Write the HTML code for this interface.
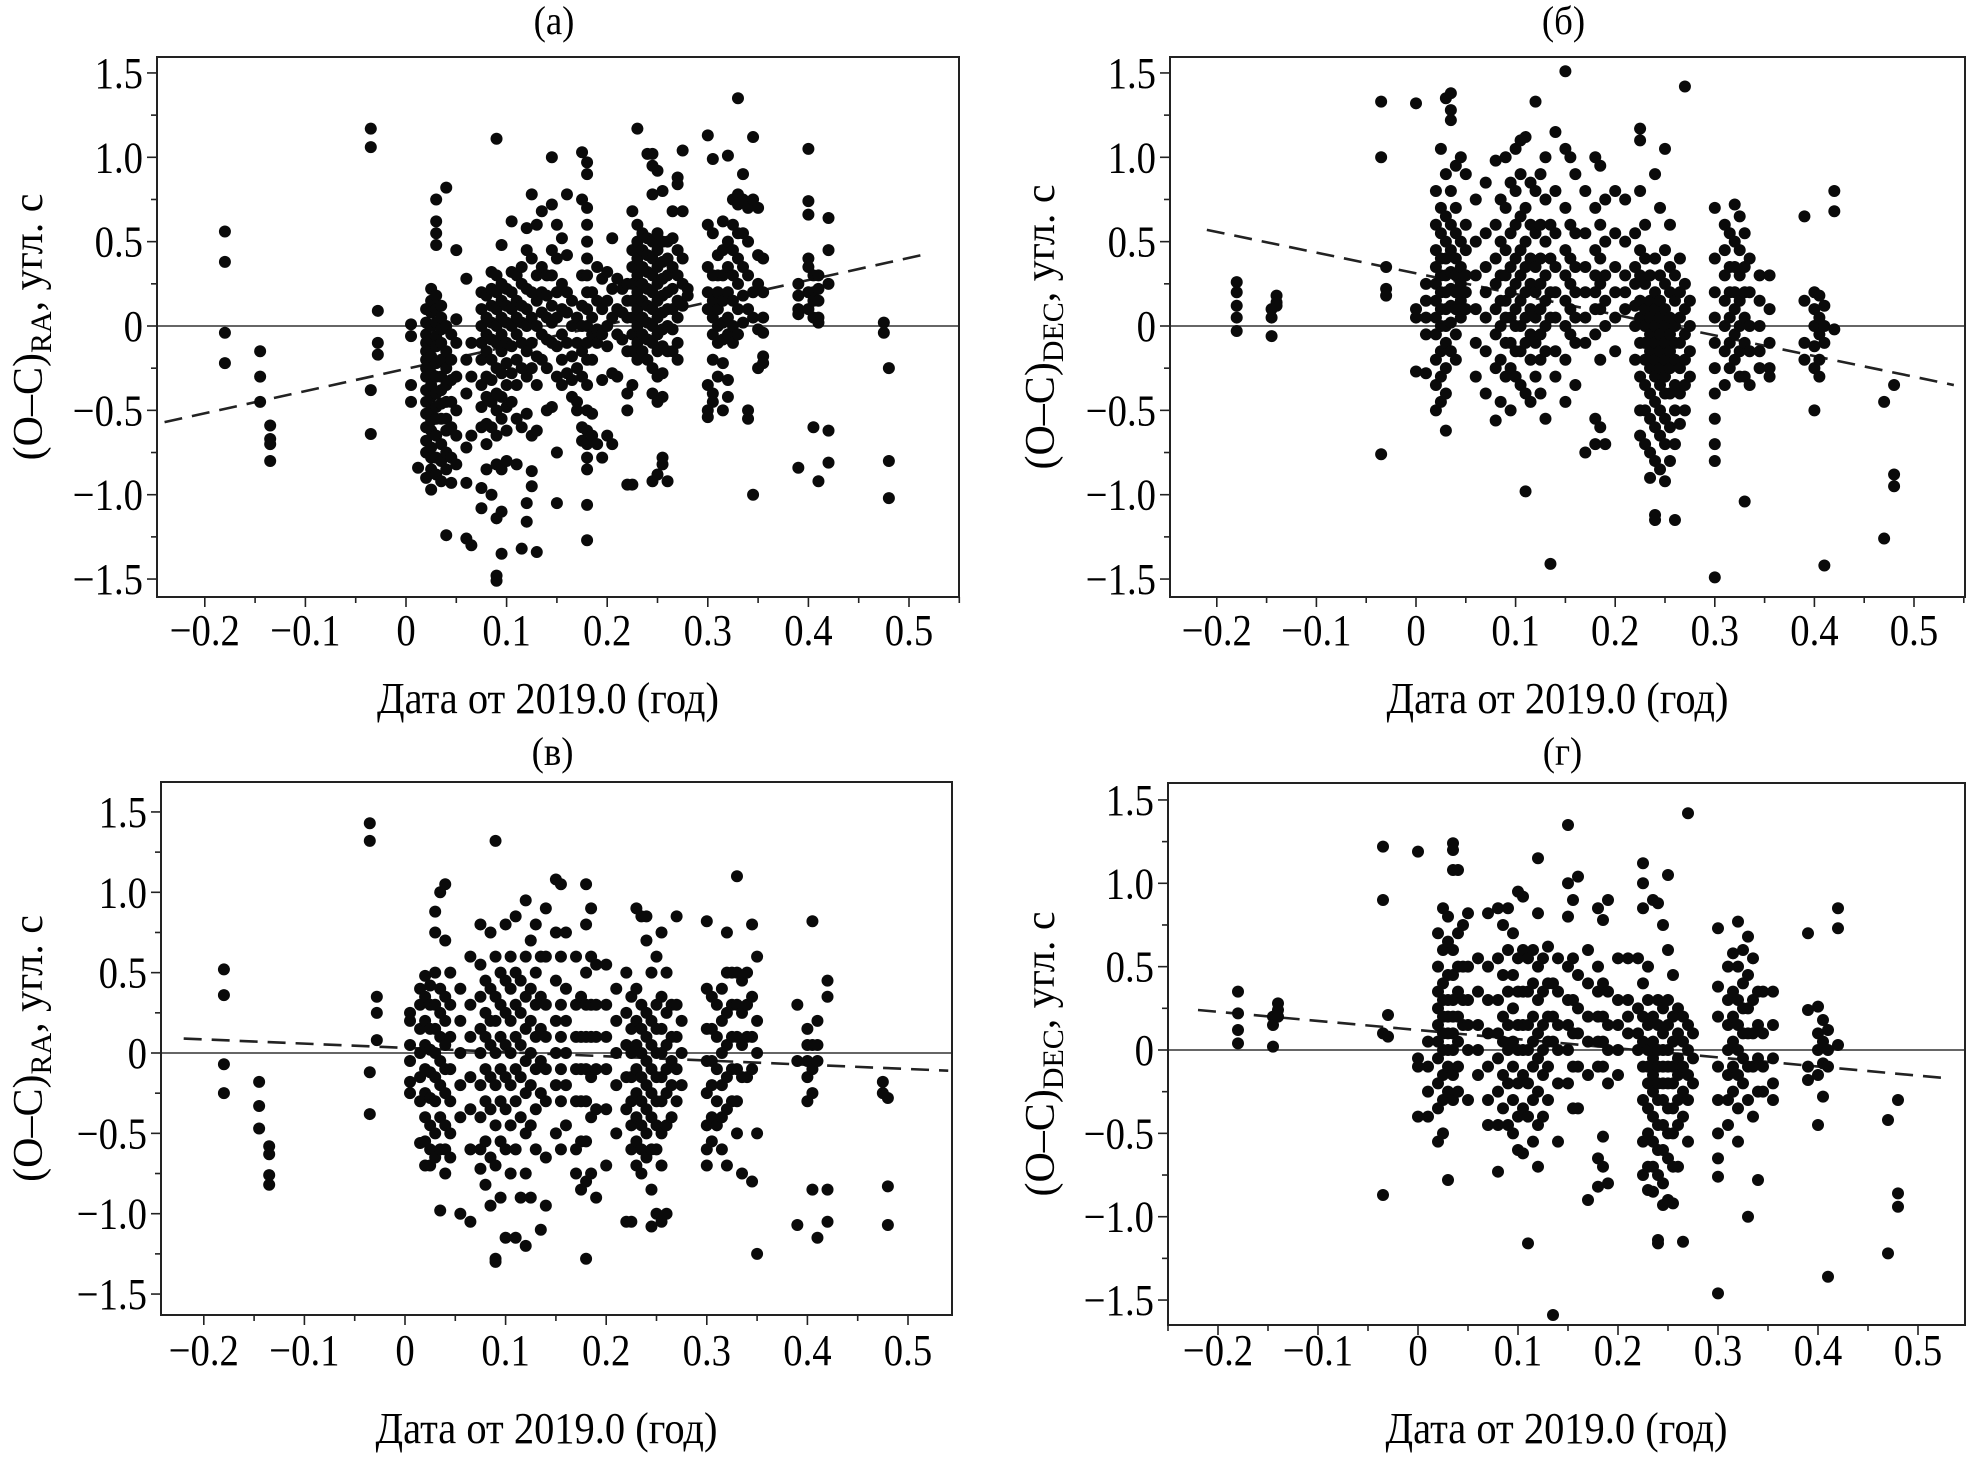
<!DOCTYPE html>
<html><head><meta charset="utf-8">
<style>
html,body{margin:0;padding:0;background:#fff;}
svg{display:block;font-family:"Liberation Serif","DejaVu Serif",serif;}
</style></head>
<body>
<svg id="fig" width="1972" height="1457" viewBox="0 0 1972 1457" xmlns="http://www.w3.org/2000/svg"></svg>
<script>
// ---- data (columns: [date, [residuals...]]) ----
const xTicks = [-0.2,-0.1,0,0.1,0.2,0.3,0.4,0.5];
const xTickLabels = ["\u22120.2","\u22120.1","0","0.1","0.2","0.3","0.4","0.5"];
const yTicks = [1.5,1.0,0.5,0,-0.5,-1.0,-1.5];
const yTickLabels = ["1.5","1.0","0.5","0","\u22120.5","\u22121.0","\u22121.5"];
const panelTitles = ["(a)","(\u0431)","(\u0432)","(\u0433)"];
const panelSubs = ["RA","DEC","RA","DEC"];
const fitA = [[-0.24,-0.57],[0.52,0.43]];
const fitB = [[-0.21,0.57],[0.54,-0.35]];
const fitC = [[-0.22,0.09],[0.54,-0.11]];
const fitD = [[-0.22,0.24],[0.53,-0.17]];
const dataA = [
[-0.18,[0.56,0.38,-0.04,-0.22]],[-0.145,[-0.15,-0.3,-0.45]],[-0.135,[-0.59,-0.67,-0.7,-0.8]],
[-0.035,[1.17,1.06,-0.38,-0.64]],[-0.028,[0.09,-0.1,-0.17]],[0.005,[0.01,-0.06,-0.35,-0.45]],[0.012,[-0.84]],
[0.02,[0.1,0.02,-0.05,-0.1,-0.15,-0.2,-0.25,-0.3,-0.38,-0.45,-0.52,-0.6,-0.68,-0.75,-0.9]],
[0.025,[0.22,0.15,0.08,0.0,-0.08,-0.18,-0.28,-0.35,-0.42,-0.5,-0.56,-0.62,-0.72,-0.78,-0.85,-0.97]],
[0.03,[0.75,0.62,0.55,0.48,0.18,0.1,0.02,-0.06,-0.12,-0.22,-0.3,-0.4,-0.48,-0.55,-0.65,-0.78,-0.88]],
[0.035,[0.12,0.05,-0.02,-0.1,-0.2,-0.3,-0.38,-0.46,-0.55,-0.7,-0.8,-0.92]],
[0.04,[0.82,0.0,-0.15,-0.25,-0.35,-0.45,-0.55,-0.62,-0.75,-0.85,-1.24]],
[0.045,[-0.05,-0.2,-0.32,-0.45,-0.6,-0.78,-0.93]],[0.05,[0.45,0.04,-0.1,-0.3,-0.5,-0.65,-0.82]],
[0.06,[0.28,-0.2,-0.4,-0.72,-0.93,-1.26]],[0.065,[-0.1,-0.3,-0.65,-1.3]],
[0.075,[0.2,0.1,0.0,-0.1,-0.2,-0.35,-0.48,-0.6,-0.96,-1.08]],[0.08,[0.18,0.05,-0.05,-0.15,-0.3,-0.42,-0.58,-0.7,-0.85]],
[0.085,[0.32,0.22,0.12,0.02,-0.08,-0.2,-0.32,-0.45,-0.6,-1.0]],
[0.09,[1.11,0.3,0.2,0.1,0.0,-0.1,-0.25,-0.4,-0.5,-0.65,-0.82,-1.14,-1.48,-1.51]],
[0.095,[0.48,0.25,0.15,0.05,-0.05,-0.15,-0.28,-0.42,-0.55,-0.85,-1.1,-1.35]],
[0.1,[0.22,0.12,0.02,-0.1,-0.22,-0.35,-0.48,-0.62,-0.8]],[0.105,[0.62,0.32,0.2,0.1,0.0,-0.12,-0.28,-0.45]],
[0.11,[0.3,0.15,0.05,-0.05,-0.2,-0.35,-0.55,-0.82]],[0.115,[0.35,0.25,0.12,0.02,-0.1,-0.25,-0.6,-1.32]],
[0.12,[0.58,0.45,0.22,0.1,0.0,-0.15,-0.3,-0.52,-1.05,-1.16]],[0.125,[0.78,0.4,0.2,0.05,-0.1,-0.25,-0.65,-0.86,-0.95]],
[0.13,[0.6,0.3,0.15,0.0,-0.18,-0.35,-0.62,-1.34]],[0.135,[0.68,0.35,0.2,0.08,-0.05,-0.2]],
[0.14,[0.3,0.18,0.05,-0.08,-0.25,-0.5]],[0.145,[1.0,0.72,0.45,0.3,0.12,0.02,-0.1,-0.48]],
[0.15,[0.6,0.4,0.2,0.05,-0.12,-0.3,-0.75,-1.05]],[0.155,[0.52,0.25,0.1,-0.05,-0.2,-0.35]],
[0.16,[0.78,0.42,0.2,0.08,-0.1,-0.28]],[0.165,[0.15,0.0,-0.18,-0.32,-0.42]],[0.17,[0.05,-0.1,-0.25,-0.45,-0.5]],
[0.175,[1.03,0.75,0.3,0.12,0.0,-0.15,-0.3,-0.6,-0.68]],
[0.18,[0.97,0.9,0.7,0.6,0.5,0.4,0.3,0.2,0.1,0.0,-0.1,-0.2,-0.35,-0.5,-0.62,-0.7,-0.78,-0.85,-1.06,-1.27]],
[0.185,[0.2,0.05,-0.05,-0.2,-0.52,-0.65]],[0.19,[0.35,0.15,-0.02,-0.1,-0.7]],[0.195,[0.28,0.1,-0.05,-0.32,-0.78]],
[0.2,[0.32,0.15,0.0,-0.12,-0.65]],[0.205,[0.52,0.22,0.05,-0.28,-0.7]],[0.21,[0.28,0.1,-0.05,-0.3]],[0.215,[0.22,0.08,-0.08]],
[0.22,[0.25,0.15,0.05,-0.15,-0.4,-0.5,-0.94]],[0.225,[0.68,0.45,0.35,0.25,0.15,0.05,-0.05,-0.15,-0.35,-0.94]],
[0.23,[1.17,0.6,0.5,0.4,0.3,0.2,0.1,0.0,-0.1,-0.2]],[0.235,[0.55,0.45,0.35,0.25,0.15,0.05,-0.05,-0.15]],
[0.24,[1.02,0.52,0.42,0.32,0.22,0.12,0.02,-0.08,-0.2]],[0.245,[1.02,0.95,0.78,0.5,0.4,0.3,0.2,0.1,0.0,-0.1,-0.25,-0.4,-0.92]],
[0.25,[0.92,0.55,0.45,0.35,0.25,0.15,0.05,-0.05,-0.15,-0.3,-0.45,-0.88]],
[0.255,[0.8,0.5,0.38,0.28,0.18,0.08,-0.02,-0.12,-0.28,-0.42,-0.82,-0.78]],
[0.26,[0.5,0.4,0.3,0.2,0.1,0.0,-0.15,-0.92]],[0.265,[0.68,0.52,0.35,0.22,0.1,-0.02,-0.15]],
[0.27,[0.88,0.84,0.45,0.3,0.15,0.05,-0.1,-0.2]],[0.275,[1.04,0.68,0.4,0.25,0.12]],[0.28,[0.22,0.18]],
[0.3,[1.13,0.6,0.35,0.2,0.1,-0.35,-0.5,-0.54]],[0.305,[0.99,0.55,0.3,0.15,0.05,-0.05,-0.2,-0.4,-0.45]],
[0.31,[0.42,0.3,0.2,0.1,0.0,-0.1,-0.3]],[0.315,[0.62,0.45,0.3,0.15,0.02,-0.08,-0.22,-0.5]],
[0.32,[1.01,0.5,0.35,0.2,0.05,-0.05,-0.32,-0.42]],[0.325,[0.75,0.6,0.45,0.3,0.15,0.0,-0.1]],
[0.33,[1.35,0.78,0.72,0.55,0.4,0.25,0.1,-0.05]],[0.335,[0.9,0.75,0.55,0.35,0.18,0.02]],
[0.34,[0.7,0.5,0.3,0.1,-0.5,-0.55]],[0.345,[1.12,0.75,0.2,0.05,-1.0]],[0.35,[0.7,0.42,0.25,-0.02,-0.25]],
[0.355,[0.4,0.2,0.05,-0.04,-0.18,-0.22]],[0.39,[0.25,0.18,0.1,0.07,-0.84]],[0.4,[1.05,0.74,0.66,0.4,0.35,0.2,0.1]],
[0.405,[0.3,0.2,0.15,0.05,-0.6]],[0.41,[0.3,0.22,0.15,0.05,0.02,-0.92]],[0.42,[0.64,0.45,0.25,-0.62,-0.81]],
[0.475,[0.02,-0.04]],[0.48,[-0.25,-0.8,-1.02]]
];
const dataB = [
[-0.18,[0.26,0.2,0.12,0.05,-0.03]],[-0.145,[0.1,0.05,-0.06]],[-0.14,[0.18,0.14,0.12]],[-0.035,[1.33,1.0,-0.76]],
[-0.03,[0.35,0.22,0.18]],[0.0,[1.32,0.1,0.05,-0.27]],[0.01,[0.25,0.15,0.05,-0.05,-0.28]],
[0.02,[0.8,0.6,0.45,0.35,0.25,0.15,0.05,-0.05,-0.2,-0.35,-0.5]],[0.025,[1.05,0.7,0.55,0.4,0.3,0.2,0.1,0.0,-0.15,-0.3,-0.45]],
[0.03,[1.35,0.9,0.65,0.5,0.4,0.3,0.2,0.1,0.0,-0.1,-0.25,-0.4,-0.62]],[0.035,[1.38,1.28,1.22,0.8,0.6,0.45,0.32,0.22,0.12,0.02,-0.15]],
[0.04,[0.95,0.7,0.55,0.4,0.3,0.2,0.1,-0.05,-0.2]],[0.045,[1.0,0.5,0.35,0.25,0.15,0.05]],[0.05,[0.9,0.6,0.45,0.3,0.2,0.1]],
[0.06,[0.75,0.5,0.3,0.1,-0.1,-0.3]],[0.07,[0.85,0.55,0.35,0.2,0.05,-0.15,-0.4]],[0.08,[0.98,0.6,0.4,0.25,0.1,-0.05,-0.25,-0.56]],
[0.085,[0.75,0.5,0.3,0.15,0.0,-0.2,-0.45]],[0.09,[1.0,0.7,0.45,0.3,0.15,0.05,-0.1,-0.3]],[0.095,[0.85,0.55,0.35,0.2,0.05,-0.1,-0.25,-0.5]],
[0.1,[1.05,0.8,0.6,0.4,0.25,0.1,0.0,-0.15,-0.3]],[0.105,[1.1,0.9,0.65,0.45,0.3,0.15,0.0,-0.15,-0.35]],
[0.11,[1.12,0.7,0.5,0.35,0.2,0.05,-0.1,-0.4,-0.98]],[0.115,[0.85,0.6,0.4,0.25,0.1,-0.05,-0.2,-0.45]],
[0.12,[1.33,0.8,0.55,0.35,0.2,0.05,-0.1,-0.3]],[0.125,[0.9,0.6,0.4,0.25,0.1,-0.05,-0.2,-0.4]],
[0.13,[1.0,0.75,0.5,0.3,0.15,0.0,-0.15,-0.55]],[0.135,[-1.41,0.6,0.4,0.2,0.05]],[0.14,[1.15,0.8,0.55,0.35,0.2,0.05,-0.15,-0.3]],
[0.15,[1.51,1.05,0.7,0.45,0.3,0.15,0.0,-0.2,-0.45]],[0.155,[1.0,0.6,0.4,0.25,0.1,-0.05]],[0.16,[0.9,0.55,0.35,0.2,0.05,-0.1,-0.35]],
[0.17,[0.8,0.55,0.35,0.2,0.05,-0.1,-0.75]],[0.18,[1.0,0.7,0.45,0.3,0.2,0.1,-0.05,-0.55,-0.7]],[0.185,[0.95,0.6,0.4,0.25,0.1,-0.2,-0.6]],
[0.19,[0.75,0.5,0.3,0.15,0.0,-0.7]],[0.2,[0.8,0.55,0.35,0.2,0.05,-0.15]],[0.21,[0.75,0.5,0.3,0.2,0.1]],[0.22,[0.55,0.35,0.25,0.12,0.0,-0.2]],
[0.225,[1.17,1.1,0.8,0.45,0.3,0.15,0.05,-0.1,-0.3,-0.5,-0.65]],[0.23,[0.6,0.4,0.25,0.1,0.0,-0.1,-0.2,-0.35,-0.5,-0.7]],
[0.235,[0.3,0.15,0.05,-0.05,-0.15,-0.25,-0.4,-0.55,-0.75,-0.9]],[0.24,[0.9,0.4,0.2,0.1,0.0,-0.1,-0.2,-0.3,-0.45,-0.6,-0.8,-1.12,-1.15]],
[0.245,[0.7,0.3,0.15,0.05,-0.05,-0.15,-0.25,-0.35,-0.5,-0.65,-0.85]],[0.25,[1.05,0.45,0.25,0.1,0.0,-0.1,-0.2,-0.3,-0.4,-0.55,-0.7,-0.92]],
[0.255,[0.6,0.35,0.2,0.05,-0.05,-0.15,-0.25,-0.4,-0.6,-0.8]],[0.26,[0.3,0.15,0.0,-0.1,-0.2,-0.35,-0.5,-0.7,-1.15]],
[0.265,[0.4,0.2,0.05,-0.1,-0.25,-0.4,-0.58]],[0.27,[1.42,0.25,0.1,-0.05,-0.2,-0.35,-0.5]],[0.275,[0.15,0.0,-0.15,-0.3]],
[0.3,[0.7,0.4,0.2,0.05,-0.1,-0.25,-0.4,-0.55,-0.7,-0.8,-1.49]],[0.31,[0.6,0.45,0.3,0.15,0.0,-0.15,-0.35]],
[0.315,[0.55,0.35,0.2,0.05,-0.1,-0.25]],[0.32,[0.72,0.5,0.35,0.2,0.1,-0.05,-0.2]],[0.325,[0.65,0.45,0.3,0.15,0.0,-0.15,-0.3]],
[0.33,[0.55,0.35,0.2,0.05,-0.1,-0.3,-1.04]],[0.335,[0.4,0.2,0.0,-0.15,-0.35]],[0.345,[0.3,0.15,0.0,-0.15,-0.25]],
[0.355,[0.3,0.1,-0.1,-0.25,-0.3]],[0.39,[0.65,0.15,-0.1,-0.2]],[0.4,[0.2,0.1,0.0,-0.12,-0.25,-0.5]],
[0.405,[0.18,0.05,-0.05,-0.2,-0.3]],[0.41,[0.12,0.0,-0.1,-1.42]],[0.42,[0.8,0.68,-0.02]],[0.47,[-0.45,-1.26]],[0.48,[-0.35,-0.88,-0.95]]
];
const dataC = [
[-0.18,[0.52,0.36,-0.07,-0.25]],[-0.145,[-0.18,-0.33,-0.47]],[-0.135,[-0.58,-0.63,-0.76,-0.82]],[-0.035,[1.43,1.32,-0.12,-0.38]],
[-0.028,[0.35,0.25,0.08]],[0.005,[0.25,0.2,0.05,-0.05,-0.18,-0.25]],[0.015,[0.4,0.3,0.15,0.0,-0.15,-0.3,-0.56]],
[0.02,[0.48,0.35,0.2,0.05,-0.1,-0.25,-0.4,-0.55,-0.7]],[0.025,[0.42,0.3,0.15,0.02,-0.12,-0.28,-0.45,-0.6,-0.7]],
[0.03,[0.88,0.75,0.5,0.3,0.15,0.0,-0.15,-0.3,-0.5,-0.65]],[0.035,[1.0,0.4,0.25,0.1,-0.05,-0.2,-0.4,-0.6,-0.98]],
[0.04,[1.05,0.7,0.35,0.2,0.05,-0.1,-0.25,-0.45,-0.6,-0.75]],[0.045,[0.5,0.3,0.1,-0.1,-0.3,-0.5,-0.65]],
[0.055,[0.4,0.2,0.0,-0.2,-0.4,-1.0]],[0.065,[0.6,0.3,0.1,-0.15,-0.35,-0.6,-1.05]],
[0.075,[0.8,0.55,0.35,0.15,0.0,-0.2,-0.4,-0.6,-0.72]],[0.08,[0.45,0.25,0.1,-0.1,-0.3,-0.55,-0.82]],
[0.085,[0.75,0.4,0.2,0.05,-0.15,-0.35,-0.65,-0.95]],[0.09,[1.32,0.6,0.35,0.2,0.0,-0.2,-0.45,-0.7,-1.28,-1.3]],
[0.095,[0.5,0.3,0.1,-0.1,-0.3,-0.55,-0.9]],[0.1,[0.8,0.45,0.25,0.05,-0.15,-0.35,-0.6,-1.15]],
[0.105,[0.6,0.4,0.2,0.0,-0.2,-0.45,-0.75]],[0.11,[0.85,0.5,0.3,0.1,-0.1,-0.3,-0.6,-1.15]],
[0.115,[0.45,0.25,0.05,-0.15,-0.4,-0.9]],[0.12,[0.95,0.6,0.35,0.15,-0.05,-0.25,-0.5,-0.75,-1.2]],
[0.125,[0.7,0.4,0.2,0.0,-0.2,-0.45,-0.9]],[0.13,[0.8,0.5,0.3,0.1,-0.1,-0.35,-0.6]],[0.135,[0.6,0.35,0.15,-0.05,-0.25,-1.1]],
[0.14,[0.9,0.6,0.3,0.1,-0.1,-0.3,-0.65,-0.95]],[0.15,[1.08,0.75,0.45,0.2,0.0,-0.2,-0.5]],[0.155,[1.05,0.6,0.3,0.1,-0.1,-0.3,-0.6]],
[0.16,[0.75,0.4,0.2,0.0,-0.2,-0.45]],[0.17,[0.6,0.3,0.1,-0.1,-0.3,-0.6,-0.75]],[0.175,[0.35,0.1,-0.1,-0.3,-0.55,-0.85]],
[0.18,[1.05,0.8,0.5,0.3,0.1,-0.1,-0.3,-0.55,-0.8,-1.28]],[0.185,[0.9,0.6,0.3,0.1,-0.15,-0.4,-0.75]],
[0.19,[0.55,0.3,0.1,-0.1,-0.35,-0.9]],[0.2,[0.55,0.3,0.1,-0.1,-0.35,-0.7]],[0.21,[0.4,0.2,0.0,-0.2,-0.5]],
[0.22,[0.5,0.25,0.05,-0.15,-0.35,-1.05]],[0.225,[0.35,0.15,0.0,-0.15,-0.3,-0.45,-0.6,-1.05]],
[0.23,[0.9,0.4,0.2,0.05,-0.1,-0.25,-0.4,-0.55,-0.7]],[0.235,[0.85,0.3,0.15,0.0,-0.15,-0.3,-0.45,-0.6,-0.75]],
[0.24,[0.85,0.7,0.25,0.1,-0.05,-0.2,-0.35,-0.5,-0.65]],[0.245,[0.5,0.2,0.05,-0.1,-0.25,-0.4,-0.6,-0.85,-1.08]],
[0.25,[0.6,0.3,0.15,0.0,-0.15,-0.3,-0.45,-0.6,-1.0]],[0.255,[0.75,0.35,0.15,0.0,-0.15,-0.3,-0.5,-0.7,-1.05]],
[0.26,[0.5,0.25,0.05,-0.1,-0.25,-0.45,-1.0]],[0.265,[0.3,0.1,-0.05,-0.2,-0.4]],[0.27,[0.85,0.3,0.1,-0.1,-0.3]],[0.275,[0.2,0.0,-0.2]],
[0.3,[0.82,0.4,0.15,-0.05,-0.25,-0.45,-0.6,-0.7]],[0.305,[0.35,0.15,-0.05,-0.2,-0.4,-0.55]],[0.31,[0.3,0.1,-0.1,-0.3,-0.45]],
[0.315,[0.4,0.2,0.0,-0.2,-0.4,-0.6]],[0.32,[0.75,0.5,0.25,0.05,-0.15,-0.35,-0.7]],[0.325,[0.5,0.3,0.1,-0.1,-0.3]],
[0.33,[1.1,0.5,0.3,0.1,-0.1,-0.3,-0.5]],[0.335,[0.45,0.25,0.05,-0.15,-0.75]],[0.34,[0.5,0.3,0.1,-0.15]],
[0.345,[0.8,0.35,0.1,-0.1,-0.8]],[0.35,[0.6,0.2,0.0,-0.5,-1.25]],[0.39,[0.3,-0.05,-1.07]],[0.4,[0.15,0.05,-0.05,-0.15,-0.3]],
[0.405,[0.82,0.05,-0.1,-0.25,-0.85]],[0.41,[0.2,0.05,-0.05,-1.15]],[0.42,[0.45,0.35,-0.85,-1.05]],[0.475,[-0.18,-0.25]],[0.48,[-0.28,-0.83,-1.07]]
];
const dataD = [
[-0.18,[0.35,0.22,0.12,0.04]],[-0.145,[0.2,0.15,0.02]],[-0.14,[0.28,0.24,0.2]],[-0.035,[1.22,0.9,0.1,-0.87]],[-0.03,[0.21,0.08]],
[0.0,[1.19,-0.05,-0.1,-0.4]],[0.01,[0.05,-0.1,-0.25,-0.4]],[0.02,[0.7,0.5,0.35,0.25,0.15,0.05,-0.05,-0.2,-0.35,-0.55]],
[0.025,[0.85,0.6,0.4,0.3,0.2,0.1,0.0,-0.15,-0.3,-0.5]],[0.03,[0.8,0.65,0.45,0.3,0.2,0.1,0.0,-0.1,-0.25,-0.78]],
[0.035,[1.24,1.2,1.08,0.6,0.45,0.3,0.2,0.1,0.0,-0.15,-0.3]],[0.04,[1.08,0.7,0.5,0.35,0.2,0.05,-0.1,-0.25]],
[0.045,[0.75,0.5,0.3,0.15]],[0.05,[0.82,0.5,0.3,0.15,0.0,-0.3]],[0.06,[0.55,0.35,0.15,0.0,-0.15]],
[0.07,[0.82,0.5,0.3,0.1,-0.1,-0.3,-0.45]],[0.08,[0.85,0.55,0.3,0.1,-0.05,-0.25,-0.45,-0.73]],
[0.085,[0.75,0.45,0.2,0.05,-0.15,-0.35]],[0.09,[0.85,0.6,0.35,0.15,0.0,-0.2,-0.45]],[0.095,[0.7,0.45,0.25,0.05,-0.1,-0.3,-0.5]],
[0.1,[0.95,0.55,0.35,0.15,0.0,-0.2,-0.4,-0.6]],[0.105,[0.92,0.6,0.35,0.15,0.0,-0.15,-0.35,-0.62]],
[0.11,[0.55,0.35,0.15,0.0,-0.2,-0.4,-1.16]],[0.115,[0.6,0.4,0.2,0.05,-0.1,-0.3,-0.55]],
[0.12,[1.15,0.82,0.5,0.3,0.1,-0.05,-0.25,-0.45,-0.7]],[0.125,[0.55,0.35,0.15,0.0,-0.15,-0.4]],
[0.13,[0.62,0.4,0.2,0.05,-0.1,-0.3]],[0.135,[-1.59,0.4,0.2,0.05]],[0.14,[0.55,0.35,0.15,0.0,-0.2,-0.55]],
[0.15,[1.35,1.0,0.8,0.5,0.3,0.15,0.0,-0.2]],[0.155,[0.9,0.55,0.3,0.1,-0.1,-0.35]],[0.16,[1.04,0.45,0.25,0.1,-0.1,-0.35]],
[0.17,[0.6,0.4,0.2,0.05,-0.15,-0.9]],[0.18,[0.85,0.5,0.35,0.2,0.05,-0.1,-0.65,-0.82]],[0.185,[0.78,0.4,0.2,0.05,-0.1,-0.52,-0.7]],
[0.19,[0.9,0.35,0.15,0.0,-0.2,-0.8]],[0.2,[0.55,0.3,0.15,0.0,-0.15]],[0.21,[0.55,0.3,0.2,0.1]],[0.22,[0.55,0.25,0.1,0.0]],
[0.225,[1.12,1.0,0.85,0.4,0.2,0.05,-0.1,-0.3,-0.55,-0.75]],[0.23,[0.5,0.3,0.15,0.0,-0.1,-0.2,-0.35,-0.5,-0.7,-0.84]],
[0.235,[0.9,0.2,0.05,-0.05,-0.15,-0.25,-0.4,-0.55,-0.7,-0.85]],[0.24,[0.88,0.3,0.15,0.0,-0.1,-0.2,-0.3,-0.45,-0.6,-0.75,-1.14,-1.16]],
[0.245,[0.75,0.25,0.1,0.0,-0.1,-0.2,-0.3,-0.45,-0.6,-0.8,-0.93]],[0.25,[1.05,0.6,0.3,0.15,0.0,-0.1,-0.2,-0.35,-0.5,-0.65,-0.9]],
[0.255,[0.45,0.2,0.05,-0.1,-0.2,-0.35,-0.5,-0.7,-0.92]],[0.26,[0.25,0.1,-0.05,-0.15,-0.3,-0.45,-0.7]],
[0.265,[0.2,0.05,-0.1,-0.25,-0.4,-1.15]],[0.27,[1.42,0.15,0.0,-0.15,-0.3,-0.55]],[0.275,[0.1,-0.05,-0.2]],
[0.3,[0.73,0.38,0.2,-0.1,-0.3,-0.5,-0.65,-0.76,-1.46]],[0.31,[0.5,0.3,0.15,0.0,-0.15,-0.3,-0.45]],
[0.315,[0.58,0.35,0.2,0.05,-0.1,-0.25]],[0.32,[0.77,0.5,0.3,0.15,0.0,-0.15,-0.35,-0.55]],[0.325,[0.6,0.4,0.25,0.1,-0.05,-0.2]],
[0.33,[0.68,0.45,0.25,0.1,-0.1,-0.3,-1.0]],[0.335,[0.55,0.3,0.1,-0.1,-0.4]],[0.34,[0.35,0.15,-0.05,-0.25,-0.78]],
[0.345,[0.35,0.1,-0.1,-0.25]],[0.355,[0.35,0.15,-0.05,-0.2,-0.3]],[0.39,[0.7,0.24,-0.1,-0.18]],[0.4,[0.26,0.1,0.0,-0.15,-0.45]],
[0.405,[0.18,0.05,-0.08,-0.28]],[0.41,[0.12,0.0,-0.1,-1.36]],[0.42,[0.85,0.73,0.03]],[0.47,[-0.42,-1.22]],[0.48,[-0.3,-0.86,-0.94]]
];

const NS = "http://www.w3.org/2000/svg";
const svg = document.getElementById('fig');
function mk(tag, attrs, parent){ const e=document.createElementNS(NS,tag); for(const k in attrs) e.setAttribute(k,attrs[k]); (parent||svg).appendChild(e); return e; }
function txt(parent, x, y, anchor, size, sx, str){
  const t = mk('text',{x:0,y:0,'text-anchor':anchor,'font-size':size,transform:'translate('+x+','+y+') scale('+sx+',1)'},parent);
  t.textContent = str; return t;
}

const layouts = [
 {L:157,R:959,T:57,B:597, x0:406,kx:1006, y0:326,ky:168.7, titleY:34, xlabY:645, xtitleY:713, ytitleX:42},
 {L:1170,R:1965,T:57,B:597, x0:1416,kx:996, y0:326,ky:168.7, titleY:34, xlabY:645, xtitleY:713, ytitleX:1054},
 {L:161,R:952,T:782,B:1315, x0:405,kx:1006, y0:1053,ky:160.7, titleY:765, xlabY:1365, xtitleY:1443, ytitleX:42},
 {L:1168,R:1965,T:783,B:1325, x0:1418,kx:1000, y0:1050,ky:166.7, titleY:765, xlabY:1365, xtitleY:1443, ytitleX:1054}
];
const datasets = [dataA,dataB,dataC,dataD];
const fits = [fitA,fitB,fitC,fitD];
const names = ['panel-a','panel-b','panel-c','panel-d'];

layouts.forEach((P,i)=>{
  const sx = v => P.x0 + v*P.kx;
  const sy = v => P.y0 - v*P.ky;
  const g = mk('g',{});
  
  
  const cx = (P.L+P.R)/2;
  const t = txt(g, cx-4, P.titleY, 'middle', 40, 0.92, panelTitles[i]);
  
  
  const cp = mk('clipPath',{id:'cp'+i},g);
  mk('rect',{x:P.L,y:P.T,width:P.R-P.L,height:P.B-P.T},cp);
  const plot = mk('g',{'clip-path':'url(#cp'+i+')'},g);
  
  
  const zl = mk('line',{x1:P.L,x2:P.R,y1:sy(0),y2:sy(0),stroke:'#333','stroke-width':1.6},plot);
  
  
  const f = fits[i];
  const fl = mk('line',{x1:sx(f[0][0]),y1:sy(f[0][1]),x2:sx(f[1][0]),y2:sy(f[1][1]),stroke:'#222','stroke-width':2.6,'stroke-dasharray':'18,10'},plot);
  
  
  datasets[i].forEach(col=>{
    col[1].forEach(v=>{
      const c = mk('circle',{cx:sx(col[0]),cy:sy(v),r:6,fill:'#0a0a0a'},plot);
      
      
    });
  });
  const fr = mk('rect',{x:P.L,y:P.T,width:P.R-P.L,height:P.B-P.T,fill:'none',stroke:'#222','stroke-width':2},g);
  
  
  for(let k=-5;k<=11;k++){
    const v=k*0.05, px=sx(v);
    if(px<P.L-1||px>P.R+1) continue;
    const major = (k%2===0);
    mk('line',{x1:px,x2:px,y1:P.B,y2:P.B+(major?10:6),stroke:'#222','stroke-width':1.6},g);
  }
  xTicks.forEach((v,j)=>{
    const tx = txt(g, sx(v), P.xlabY, 'middle', 44, 0.88, xTickLabels[j]);
    
    
  });
  for(let k=-7;k<=7;k++){
    const v=k*0.25, py=sy(v);
    if(py<P.T-1||py>P.B+1) continue;
    const major=(k%2===0);
    mk('line',{x1:P.L-(major?10:6),x2:P.L,y1:py,y2:py,stroke:'#222','stroke-width':1.6},g);
  }
  yTicks.forEach((v,j)=>{
    const ty = txt(g, P.L-14, sy(v)+15, 'end', 44, 0.88, yTickLabels[j]);
    
    
  });
  const xt = txt(g, cx-10, P.xtitleY, 'middle', 44, 0.92, 'Дата от 2019.0 (год)');
  
  
  const ymid = (P.T+P.B)/2;
  const yt = mk('text',{x:0,y:0,'text-anchor':'middle','font-size':42,transform:'translate('+P.ytitleX+','+ymid+') rotate(-90)'},g);
  
  
  const s1 = mk('tspan',{},yt); s1.textContent='(O\u2013C)';
  const s2 = mk('tspan',{dy:9,'font-size':30},yt); s2.textContent=panelSubs[i];
  const s3 = mk('tspan',{dy:-9},yt); s3.textContent=', угл. с';
});
</script>
</body></html>
